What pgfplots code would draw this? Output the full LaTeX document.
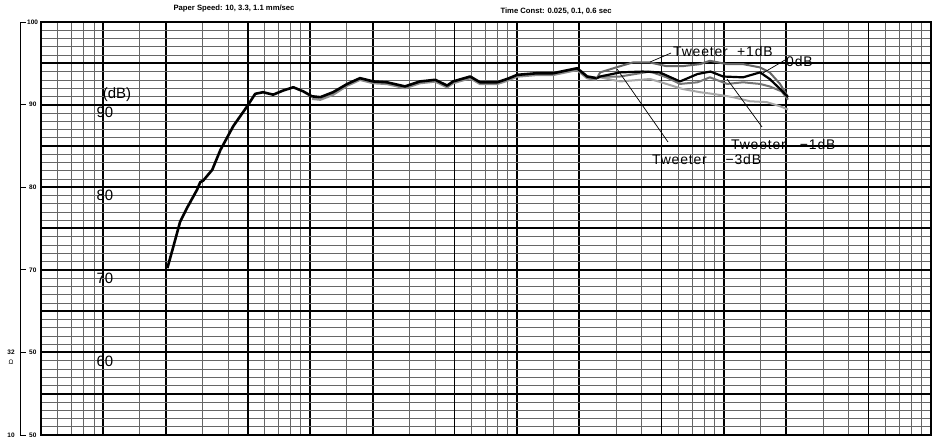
\documentclass[border=0pt]{standalone}
\usepackage{fontspec}
\setmainfont{Liberation Sans}
\newfontfamily\ann[LetterSpace=6]{Liberation Sans}
\usepackage{pgfplots}
\pgfplotsset{compat=1.18}
\begin{document}
\begin{tikzpicture}[x=1bp,y=1bp]
\useasboundingbox (0,0) rectangle (947,437);
\begin{axis}[at={(41bp,2bp)}, anchor=south west, scale only axis,
 width=890bp, height=413bp,
 xmode=log, xmin=5, xmax=100000, ymin=50, ymax=100,
 xtick={10,20,100,200,1000,2000,10000,20000},
 extra x ticks={50,500,5000,50000},
 extra x tick labels={},
 extra x tick style={grid=major, major grid style={black, line width=1.2bp}},
 minor xtick={6,7,8,9,15,30,40,60,70,80,90,150,300,400,600,700,800,900,1500,3000,4000,6000,7000,8000,9000,15000,30000,40000,60000,70000,80000,90000},
 xticklabels={},
 ytick={55,60,65,70,75,80,85,90,95}, yticklabels={},
 minor ytick={51,52,53,54,56,57,58,59,61,62,63,64,66,67,68,69,71,72,73,74,76,77,78,79,81,82,83,84,86,87,88,89,91,92,93,94,96,97,98,99},
 grid=both,
 major grid style={black, line width=2bp},
 minor grid style={black!60, line width=0.6bp},
 major tick length=0pt, minor tick length=0pt,
 axis line style={black, line width=1.6bp},
 clip=false,
]
% overlapping traces (gray hatching of the common part)
\addplot[black!45, line width=2.4bp, line join=round] coordinates {
(102,90.7) (112,90.6) (129,91.2) (151,92.3) (174,93.0) (202,92.6) (235,92.5) (287,92.0)
(339,92.6) (402,92.8) (459,92.1) (490,92.6) (593,93.2) (662,92.5) (800,92.5) (894,92.9)
(1000,93.4) (1250,93.6) (1494,93.6) (1950,94.2) (2180,93.2) (2430,93.0)};
% main common trace
\addplot[black, line width=2.6bp, line join=round] coordinates {
(20.4,70.2) (21.8,72.8) (23.5,75.8) (25.4,77.5) (28.4,79.7) (29.4,80.6) (30.4,80.8)
(33.6,82.1) (36.8,84.5) (42.5,87.4) (49.6,89.8) (54.2,91.3) (59.2,91.5) (66.2,91.2)
(74.0,91.7) (82.8,92.1) (92.5,91.6) (102,91.0) (112,90.9) (129,91.5) (151,92.5)
(174,93.2) (202,92.8) (235,92.7) (287,92.2) (339,92.8) (402,93.0) (459,92.3)
(490,92.8) (593,93.4) (662,92.7) (800,92.7) (894,93.1) (1000,93.6) (1250,93.8)
(1494,93.8) (1950,94.4) (2180,93.4) (2430,93.2)};
% Tweeter -3dB
\addplot[black!35, line width=2bp, line join=round] coordinates {
(2430,93.2) (2518,93.3) (3146,92.8) (4390,93.1) (5270,92.5) (6270,91.9) (7656,91.5)
(9080,91.25) (11060,90.9) (13330,90.4) (16060,90.3) (18640,89.8) (20380,89.4)};
% Tweeter -1dB
\addplot[black!55, line width=2bp, line join=round] coordinates {
(2430,93.2) (2518,93.4) (3146,93.4) (4390,94.0) (5270,93.3) (6124,92.5) (7440,92.7)
(8540,93.3) (10350,92.5) (12350,92.7) (14920,92.5) (16610,92.2) (18960,91.6) (20380,90.6)};
% Tweeter +1dB
\addplot[black!60, line width=2bp, line join=round] coordinates {
(2430,93.2) (2518,93.9) (3146,94.65) (3620,95.1) (4390,95.1) (5270,94.65) (6270,94.65)
(7656,94.9) (8540,95.3) (10350,94.9) (12350,94.9) (14920,94.5) (16610,93.9) (18640,92.5) (20380,90.9)};
% 0dB
\addplot[black, line width=2.2bp, line join=round] coordinates {
(2430,93.2) (2518,93.4) (3146,93.9) (4040,94.0) (4880,93.9) (6124,92.8) (7440,93.7)
(8590,94.0) (9900,93.4) (12350,93.3) (14920,93.9) (16610,93.1) (18640,91.9) (20380,90.9)};

% header
\node[font=\fontsize{7.7}{8}\selectfont\bfseries] at (rel axis cs:0.2169,1.0315) {Paper Speed: 10, 3.3, 1.1 mm/sec};
\node[font=\fontsize{7.7}{8}\selectfont\bfseries] at (rel axis cs:0.5787,1.0266) {Time Const: 0.025, 0.1, 0.6 sec};

% inner labels
\node[font=\fontsize{15}{15}\selectfont] at (rel axis cs:0.0854,0.8232) {(dB)};
\node[font=\fontsize{15}{15}\selectfont] at (rel axis cs:0.0719,0.7821) {90};
\node[font=\fontsize{15}{15}\selectfont] at (rel axis cs:0.0719,0.5811) {80};
\node[font=\fontsize{15}{15}\selectfont] at (rel axis cs:0.0719,0.3801) {70};
\node[font=\fontsize{15}{15}\selectfont] at (rel axis cs:0.0719,0.1792) {60};

% left scale
\draw[line width=0.8bp] ([xshift=-21bp]rel axis cs:0,0) -- ([xshift=-21bp]rel axis cs:0,1);
\draw[line width=0.8bp] ([xshift=-21bp]rel axis cs:0,1) -- ([xshift=-15bp]rel axis cs:0,1);
\draw[line width=0.8bp] ([xshift=-21bp]rel axis cs:0,0.8) -- ([xshift=-15bp]rel axis cs:0,0.8);
\draw[line width=0.8bp] ([xshift=-21bp]rel axis cs:0,0.6) -- ([xshift=-15bp]rel axis cs:0,0.6);
\draw[line width=0.8bp] ([xshift=-21bp]rel axis cs:0,0.4) -- ([xshift=-15bp]rel axis cs:0,0.4);
\draw[line width=0.8bp] ([xshift=-21bp]rel axis cs:0,0.2) -- ([xshift=-15bp]rel axis cs:0,0.2);
\draw[line width=0.8bp] ([xshift=-21bp]rel axis cs:0,0) -- ([xshift=-15bp]rel axis cs:0,0);
\node[font=\fontsize{6.5}{7}\selectfont\bfseries, anchor=west, inner sep=0pt] at ([xshift=-14bp]rel axis cs:0,1) {100};
\node[font=\fontsize{6.5}{7}\selectfont\bfseries, anchor=west, inner sep=0pt] at ([xshift=-12bp]rel axis cs:0,0.8) {90};
\node[font=\fontsize{6.5}{7}\selectfont\bfseries, anchor=west, inner sep=0pt] at ([xshift=-12bp]rel axis cs:0,0.6) {80};
\node[font=\fontsize{6.5}{7}\selectfont\bfseries, anchor=west, inner sep=0pt] at ([xshift=-12bp]rel axis cs:0,0.4) {70};
\node[font=\fontsize{6.5}{7}\selectfont\bfseries, anchor=west, inner sep=0pt] at ([xshift=-12bp]rel axis cs:0,0.2) {50};
\node[font=\fontsize{6.5}{7}\selectfont\bfseries, anchor=west, inner sep=0pt] at ([xshift=-12bp]rel axis cs:0,0) {50};
\node[font=\fontsize{6.5}{7}\selectfont\bfseries] at ([xshift=-30bp]rel axis cs:0,0.2) {32};
\node[font=\fontsize{6.5}{7}\selectfont] at ([xshift=-30bp,yshift=-10bp]rel axis cs:0,0.2) {Ω};
\node[font=\fontsize{6.5}{7}\selectfont\bfseries] at ([xshift=-30bp]rel axis cs:0,0) {10};

% annotations
\node[font=\ann\fontsize{14}{14}\selectfont, anchor=west, inner sep=0pt] at (rel axis cs:0.7101,0.9274) {Tweeter\ \ +1dB};
\node[font=\ann\fontsize{14}{14}\selectfont, anchor=west, inner sep=0pt] at (rel axis cs:0.8371,0.9031) {0dB};
\node[font=\ann\fontsize{14}{14}\selectfont, anchor=west, inner sep=0pt] at (rel axis cs:0.7753,0.7022) {Tweeter\ \ \ −1dB};
\node[font=\ann\fontsize{14}{14}\selectfont, anchor=west, inner sep=0pt] at (rel axis cs:0.6865,0.6659) {Tweeter\ \ \ \ −3dB};
\draw[line width=0.7bp] (rel axis cs:0.7079,0.9249) -- (rel axis cs:0.6843,0.9031);
\draw[line width=0.7bp] (rel axis cs:0.836,0.9080) -- (rel axis cs:0.8112,0.8765);
\draw[line width=0.7bp] (rel axis cs:0.8101,0.7458) -- (rel axis cs:0.7708,0.8620);
\draw[line width=0.7bp] (rel axis cs:0.7045,0.7094) -- (rel axis cs:0.6472,0.8862);
\end{axis}
\end{tikzpicture}
\end{document}
